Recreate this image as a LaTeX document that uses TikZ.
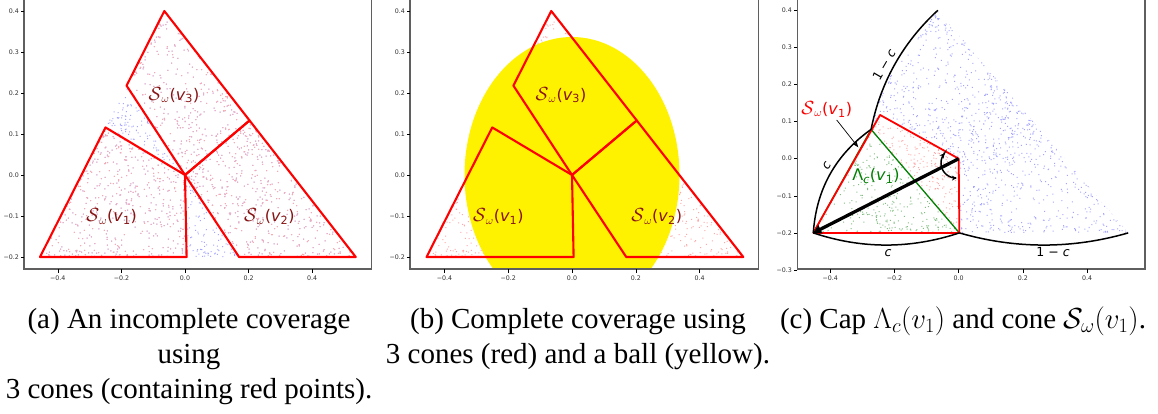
\RequirePackage{fix-cm}
\documentclass[tikz,border=0pt]{standalone}
\usepackage{fontspec}
\setmainfont{Liberation Serif}
\newfontfamily\dvs{DejaVu Sans}
\usetikzlibrary{arrows.meta}
\definecolor{labred}{RGB}{135,20,20}
\definecolor{dotred}{RGB}{255,168,168}
\definecolor{dotblue}{RGB}{165,165,255}
\definecolor{dotgreen}{RGB}{130,190,130}
\definecolor{spinegray}{RGB}{95,95,95}
\definecolor{tickgray}{RGB}{50,50,50}
\definecolor{mplgreen}{RGB}{0,128,0}
\newcommand\Sw[1]{{\fontsize{19}{20}\selectfont$\mathcal{S}$}\textsubscript{$\omega$}(\textit{v}\textsubscript{#1})}
\newcommand\Lam[1]{Λ\textsubscript{\textit{c}}(\textit{v}\textsubscript{#1})}
\newcommand\makepts[8]{%
  \gdef#1{}%
  \foreach \i in {1,...,#2}{%
    \pgfmathsetmacro\wa{(0.002+rnd)^1.6}%
    \pgfmathsetmacro\wb{(0.002+rnd)^1.6}%
    \pgfmathsetmacro\wc{(0.002+rnd)^1.6}%
    \pgfmathsetmacro\ws{\wa+\wb+\wc}%
    \pgfmathsetmacro\px{(\wa*(#3)+\wb*(#5)+\wc*(#7))/\ws}%
    \pgfmathsetmacro\py{(\wa*(#4)+\wb*(#6)+\wc*(#8))/\ws}%
    \xdef#1{#1 (\px,\py) rectangle +(1pt,1pt)}%
  }%
}
\newcommand\drawpts[2]{\edef\tmpcmd{\noexpand\fill[#1] #2;}\tmpcmd}
\pgfmathsetseed{12345}
\makepts{\ptsA}{1400}{-0.065}{0.4}{-0.456}{-0.2}{0.537}{-0.2}
\makepts{\ptsC}{1600}{-0.065}{0.4}{-0.56}{-0.2}{0.528}{-0.2}
\begin{document}
\begin{tikzpicture}[x=1pt,y=-1pt,
  spine/.style={draw=spinegray, line width=1.4pt},
  tickmark/.style={draw=black, line width=0.6pt},
  ticklab/.style={font=\dvs\fontsize{6.3}{7}\selectfont, text=tickgray, inner sep=0pt},
  conepath/.style={draw=red, line width=2.1pt, line join=round},
  conelab/.style={font=\dvs\fontsize{16}{18}\selectfont, text=labred, inner sep=0pt},
  arclab/.style={font=\dvs\fontsize{12.5}{14}\selectfont, inner sep=0pt},
  arcline/.style={draw=black, line width=1.5pt},
  capt/.style={font=\fontsize{29}{35}\selectfont, inner sep=0pt, anchor=base},
]
\useasboundingbox (0,0) rectangle (1158,413);
\fill[white] (0,0) rectangle (1158,413);

% ================= panel (a) =================
\begin{scope}[shift={(185,175)}, x=318pt, y=410pt]
  \coordinate (aT) at (-0.065,0.4);
  \coordinate (aL) at (-0.456,-0.2);
  \coordinate (aR) at (0.537,-0.2);
  \coordinate (aO) at (0,0);
  \coordinate (aQ1) at (-0.25,0.116);
  \coordinate (aQ3) at (-0.1837,0.218);
  \coordinate (aQ2) at (0.203,0.133);
  \coordinate (aB1) at (0.005,-0.2);
  \coordinate (aB2) at (0.17,-0.2);
  \drawpts{dotblue}{\ptsA}
  \begin{scope}
    \clip (aL)--(aQ1)--(aO)--(aB1)--cycle (aT)--(aQ3)--(aO)--(aQ2)--cycle (aB2)--(aO)--(aQ2)--(aR)--cycle;
    \drawpts{dotred}{\ptsA}
  \end{scope}
  \draw[conepath] (aL)--(aQ1)--(aO)--(aB1)--cycle;
  \draw[conepath] (aT)--(aQ3)--(aO)--(aQ2)--cycle;
  \draw[conepath] (aB2)--(aO)--(aQ2)--(aR)--cycle;
\end{scope}
\node[conelab] (a3) at (174,95) {\Sw{3}};
\node[conelab] (a1) at (111.7,216.7) {\Sw{1}};
\node[conelab] (a2) at (269.3,216.7) {\Sw{2}};
\draw[spine] (24,0) -- (24,269) -- (371.7,269) -- (371.7,0);
\foreach \k/\t in {-2/−0.4,-1/−0.2,0/0.0,1/0.2,2/0.4}{
  \draw[tickmark] ({185+\k*63.6},269) -- ++(0,3.5);
  \node[ticklab] (ax\k) at ({185+\k*63.6},278) {\t};
}
\foreach \k/\t in {4/0.4,3/0.3,2/0.2,1/0.1,0/0.0,-1/−0.1,-2/−0.2}{
  \draw[tickmark] (24,{175-\k*41}) -- ++(-3.5,0);
  \node[ticklab, anchor=east] (ay\k) at (19,{175-\k*41}) {\t};
}

% ================= panel (b) =================
\begin{scope}[shift={(572,175)}, x=319pt, y=410pt]
  \coordinate (bT) at (-0.065,0.4);
  \coordinate (bL) at (-0.456,-0.2);
  \coordinate (bR) at (0.537,-0.2);
  \coordinate (bO) at (0,0);
  \coordinate (bQ1) at (-0.25,0.116);
  \coordinate (bQ3) at (-0.1837,0.218);
  \coordinate (bQ2) at (0.203,0.133);
  \coordinate (bB1) at (0.005,-0.2);
  \coordinate (bB2) at (0.17,-0.2);
  \drawpts{dotred}{\ptsA}
\end{scope}
\begin{scope}
  \clip (410,0) rectangle (758.3,269);
  \fill[yellow] (572,175) ellipse [x radius=107.5pt, y radius=138pt];
\end{scope}
\draw[conepath] (bL)--(bQ1)--(bO)--(bB1)--cycle;
\draw[conepath] (bT)--(bQ3)--(bO)--(bQ2)--cycle;
\draw[conepath] (bB2)--(bO)--(bQ2)--(bR)--cycle;
\node[conelab] (b3) at (561,95) {\Sw{3}};
\node[conelab] (b1) at (498.3,216.7) {\Sw{1}};
\node[conelab] (b2) at (656.7,216.7) {\Sw{2}};
\draw[spine] (410,0) -- (410,269) -- (758.3,269) -- (758.3,0);
\foreach \k/\t in {-2/−0.4,-1/−0.2,0/0.0,1/0.2,2/0.4}{
  \draw[tickmark] ({572+\k*63.8},269) -- ++(0,3.5);
  \node[ticklab] (bx\k) at ({572+\k*63.8},278) {\t};
}
\foreach \k/\t in {4/0.4,3/0.3,2/0.2,1/0.1,0/0.0,-1/−0.1,-2/−0.2}{
  \draw[tickmark] (410,{175-\k*41}) -- ++(-3.5,0);
  \node[ticklab, anchor=east] (by\k) at (405,{175-\k*41}) {\t};
}

% ================= panel (c) =================
\begin{scope}[shift={(958.7,158.7)}, x=321pt, y=371pt]
  \coordinate (cT) at (-0.065,0.4);
  \coordinate (cL) at (-0.453,-0.2);
  \coordinate (cR) at (0.528,-0.2);
  \coordinate (cO) at (0,0);
  \coordinate (cQ) at (-0.245,0.118);
  \coordinate (cB) at (0.002,-0.2);
  \coordinate (cP) at (-0.273,0.079);
  \begin{scope}
    \clip (cT) .. controls (-0.1745,0.3129) and (-0.2439,0.2057) .. (cP) -- (cQ) -- (cO) -- (cB) -- (cR) -- cycle;
    \drawpts{dotblue}{\ptsC}
  \end{scope}
  \begin{scope}
    \clip (cP) -- (cQ) -- (cO) -- (cB) -- cycle;
    \drawpts{dotred}{\ptsC}
  \end{scope}
  \begin{scope}
    \clip (cP) -- (cL) -- (cB) -- cycle;
    \drawpts{dotgreen}{\ptsC}
  \end{scope}
  \draw[draw=mplgreen, line width=1.3pt] (cL) -- (cP) -- (cB);
  \draw[conepath, line width=1.8pt] (cL)--(cQ)--(cO)--(cB)--cycle;
  \draw[arcline] (cT) .. controls (-0.1745,0.3129) and (-0.2439,0.2057) .. (cP);
  \draw[arcline] (cP) .. controls (-0.3838,0.0108) and (-0.4436,-0.0822) .. (cL);
  \draw[arcline] (cL) .. controls (-0.3019,-0.2437) and (-0.1505,-0.2437) .. (cB);
  \draw[arcline] (cB) .. controls (0.1773,-0.2437) and (0.353,-0.2437) .. (cR);
  \draw[line width=3.3pt, -{Triangle[length=8pt,width=9pt]}] (cO) -- (cL);
\end{scope}
\draw[line width=1.5pt, {Stealth[length=5pt,width=5pt]}-{Stealth[length=5pt,width=5pt]}]
  plot[smooth, domain=221:87, samples=25] ({956+15*cos(\x)},{163+15*sin(\x)});
\node[conelab, text=red] (cS) at (826.7,109.3) {\Sw{1}};
\node[conelab, text=mplgreen] (cLam) at (876,176) {\Lam{1}};
\coordinate (annS) at (836.7,120);
\coordinate (annE) at (858.3,147.3);
\draw[line width=0.7pt, -{Stealth[length=6pt,width=4.5pt]}] (annS) -- (annE);
\node[arclab, rotate=60] (lt) at (884,65) {1 − \textit{c}};
\node[arclab, rotate=60] (ll) at (827,166) {\textit{c}};
\node[arclab] (lb) at (888,253) {\textit{c}};
\node[arclab] (lr) at (1053,252) {1 − \textit{c}};
\draw[spine] (797.3,0) -- (797.3,269) -- (1145,269) -- (1145,0);
\foreach \k/\t in {-2/−0.4,-1/−0.2,0/0.0,1/0.2,2/0.4}{
  \draw[tickmark] ({958.7+\k*64.2},269) -- ++(0,3.5);
  \node[ticklab] (cx\k) at ({958.7+\k*64.2},278) {\t};
}
\foreach \k/\t in {4/0.4,3/0.3,2/0.2,1/0.1,0/0.0,-1/−0.1,-2/−0.2,-3/−0.3}{
  \draw[tickmark] (797.3,{158.7-\k*37.1}) -- ++(-3.5,0);
  \node[ticklab, anchor=east] (cy\k) at (792,{158.7-\k*37.1}) {\t};
}

% ================= captions =================
\node[capt] (capa) at (189,328) {\begin{tabular}[t]{@{}c@{}}(a) An incomplete coverage\\ using\\ 3 cones (containing red points).\end{tabular}};
\node[capt] (capb) at (578,328) {\begin{tabular}[t]{@{}c@{}}(b) Complete coverage using\\ 3 cones (red) and a ball (yellow).\end{tabular}};
\node[capt] (capc) at (963,328) {(c) Cap $\Lambda_c(v_1)$ and cone $\mathcal{S}_\omega(v_1)$.};
\end{tikzpicture}
\end{document}
